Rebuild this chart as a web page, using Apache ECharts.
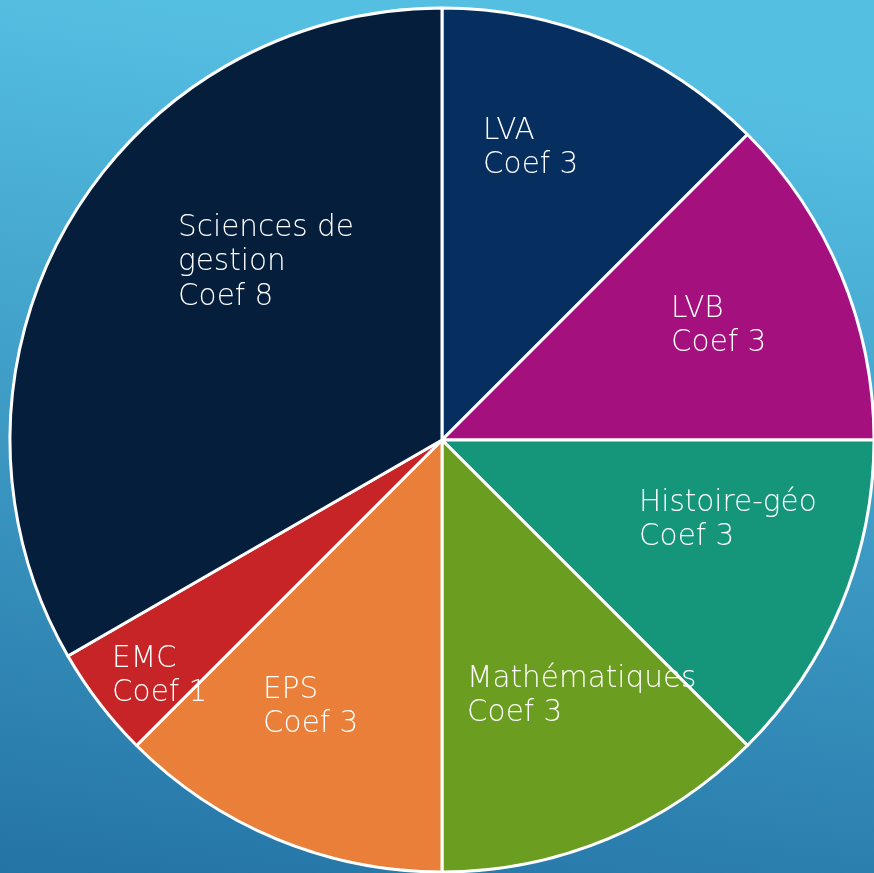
<!DOCTYPE html>
<html>
<head>
<meta charset="utf-8">
<style>
html,body{margin:0;padding:0;width:874px;height:873px;overflow:hidden;}
#chart{width:874px;height:873px;}
</style>
<script src="https://cdn.jsdelivr.net/npm/echarts@6/dist/echarts.min.js"></script>
</head>
<body>
<div id="chart"></div>
<script>
// Data
const categories = ['LVA', 'LVB', 'Histoire-géo', 'Mathématiques', 'EPS', 'EMC', 'Sciences de\ngestion'];
const coefficients = [3, 3, 3, 3, 3, 1, 8];
const colors = ['#062f5f', '#a4107e', '#15967a', '#6b9e20', '#e97f38', '#c62426', '#041e3c'];
// label anchor (top-left of the text block), in pixels
const labelAnchors = [[483, 114], [671, 292], [639, 486], [467, 662], [263, 673], [112, 642], [178, 211]];

const chart = echarts.init(document.getElementById('chart'), null, {renderer: 'canvas'});
const data = categories.map((c, i) => ({
  name: c,
  value: coefficients[i],
  itemStyle: {color: colors[i]}
}));

chart.setOption({
  backgroundColor: {
    type: 'linear', x: 0.15, y: 0, x2: 0, y2: 1,
    colorStops: [
      {offset: 0, color: '#55bfe2'},
      {offset: 1, color: '#2474a5'}
    ]
  },
  animation: false,
  series: [{
    type: 'pie',
    center: [442, 440],
    radius: 432,
    startAngle: 90,
    clockwise: true,
    avoidLabelOverlap: false,
    data: data,
    itemStyle: {borderColor: '#ffffff', borderWidth: 3},
    label: {
      show: true,
      position: 'inside',
      formatter: p => p.name + '\nCoef ' + p.value,
      color: '#ffffff',
      fontFamily: 'DejaVu Sans',
      fontWeight: 200,
      fontSize: 29.5,
      lineHeight: 34.5,
      align: 'left',
      verticalAlign: 'top'
    },
    labelLine: {show: false},
    labelLayout: function (params) {
      const a = labelAnchors[params.dataIndex];
      return {x: a[0], y: a[1], align: 'left', verticalAlign: 'top'};
    },
    emphasis: {disabled: true}
  }]
});
</script>
</body>
</html>
